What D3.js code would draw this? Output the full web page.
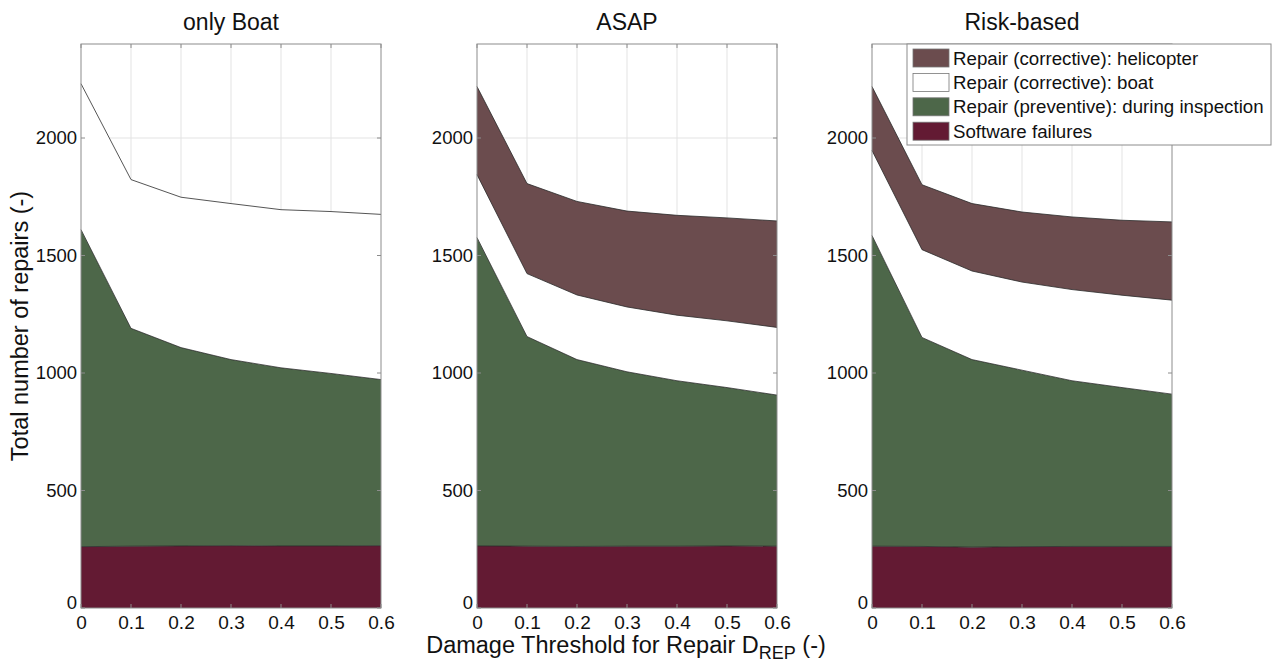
<!DOCTYPE html>
<html>
<head>
<meta charset="utf-8">
<script src="https://cdn.jsdelivr.net/npm/d3@7"></script>
<style>
  html, body { margin: 0; padding: 0; background: #fff; }
  svg { display: block; font-family: "Liberation Sans", Arial, sans-serif; }
</style>
</head>
<body>
<svg id="chart" width="1272" height="665"></svg>
<script>
// Damage threshold values on the x axis
const thresholds = [0, 0.1, 0.2, 0.3, 0.4, 0.5, 0.6];
const xTicks = [0, 0.1, 0.2, 0.3, 0.4, 0.5, 0.6];
const yTicks = [0, 500, 1000, 1500, 2000];

// Maintenance strategies (one panel each)
const strategies = ["only Boat", "ASAP", "Risk-based"];

// Stack layers, bottom to top
const layerKeys = ["software", "preventive", "boat", "helicopter"];
const layerNames = {
  helicopter: "Repair (corrective): helicopter",
  boat: "Repair (corrective): boat",
  preventive: "Repair (preventive): during inspection",
  software: "Software failures"
};
const layerColors = {
  helicopter: "#6b4c4e",
  boat: "#ffffff",
  preventive: "#4d6749",
  software: "#631a33"
};

// Number of repairs per threshold — "only Boat"
const boatOnlySoftware   = [261, 263, 264, 265, 264, 264, 265];
const boatOnlyPreventive = [1349, 927, 844, 792, 758, 734, 707];
const boatOnlyBoat       = [621, 633, 640, 664, 673, 689, 703];
const boatOnlyHeli       = [0, 0, 0, 0, 0, 0, 0];

// "ASAP"
const asapSoftware   = [264, 263, 262, 263, 263, 264, 263];
const asapPreventive = [1312, 892, 795, 742, 704, 674, 643];
const asapBoat       = [268, 268, 275, 276, 279, 284, 288];
const asapHeli       = [375, 383, 398, 408, 425, 438, 453];

// "Risk-based"
const riskSoftware   = [263, 262, 259, 261, 262, 262, 262];
const riskPreventive = [1322, 889, 798, 751, 705, 676, 648];
const riskBoat       = [362, 374, 377, 375, 388, 393, 400];
const riskHeli       = [272, 276, 287, 298, 309, 319, 333];

const panelSeries = [
  [boatOnlySoftware, boatOnlyPreventive, boatOnlyBoat, boatOnlyHeli],
  [asapSoftware, asapPreventive, asapBoat, asapHeli],
  [riskSoftware, riskPreventive, riskBoat, riskHeli]
];

const svg = d3.select("#chart");
const panelLeft = [81, 477, 872];
const panelWidth = 300;
const plotTop = 44, plotBottom = 608;
const textColor = "#111";

const y = d3.scaleLinear().domain([0, 2400]).range([plotBottom, plotTop]);
const stack = d3.stack().keys(layerKeys);

strategies.forEach((name, p) => {
  const x = d3.scaleLinear().domain([0, 0.6]).range([panelLeft[p], panelLeft[p] + panelWidth]);
  const rows = thresholds.map((t, i) => {
    const r = { t };
    layerKeys.forEach((k, j) => { r[k] = panelSeries[p][j][i]; });
    return r;
  });
  const layers = stack(rows);
  const g = svg.append("g");

  // background grid
  g.append("g").selectAll("line").data(xTicks.slice(1, -1)).join("line")
    .attr("x1", d => x(d)).attr("x2", d => x(d))
    .attr("y1", plotTop).attr("y2", plotBottom)
    .attr("stroke", "#e3e3e3").attr("stroke-width", 1);
  g.append("g").selectAll("line").data(yTicks.slice(1)).join("line")
    .attr("x1", x(0)).attr("x2", x(0.6))
    .attr("y1", d => y(d)).attr("y2", d => y(d))
    .attr("stroke", "#e3e3e3").attr("stroke-width", 1);

  // stacked areas
  const area = d3.area()
    .x(d => x(d.data.t))
    .y0(d => y(d[0]))
    .y1(d => y(d[1]));
  const topLine = d3.line()
    .x(d => x(d.data.t))
    .y(d => y(d[1]));

  const visible = layers.filter(layer => layer.some(d => d[1] - d[0] > 0));
  visible.forEach(layer => {
    g.append("path").datum(layer)
      .attr("d", area)
      .attr("fill", layerColors[layer.key]);
  });
  visible.forEach(layer => {
    g.append("path").datum(layer)
      .attr("d", topLine)
      .attr("fill", "none")
      .attr("stroke", "#2a2a2a")
      .attr("stroke-width", 0.8);
  });

  // axes (inner ticks on all four sides, MATLAB style box)
  const axisColor = "#8c8c8c";
  const bottomAxis = d3.axisBottom(x).tickValues(xTicks).tickSize(0).tickPadding(8)
    .tickFormat(d => d === 0 ? "0" : d3.format(".1f")(d));
  const ax = g.append("g").attr("transform", `translate(0,${plotBottom})`).call(bottomAxis);
  ax.select(".domain").remove();
  ax.selectAll("text").attr("font-size", 19).attr("fill", textColor)
    .attr("font-family", "Liberation Sans, Arial, sans-serif");

  const leftAxis = d3.axisLeft(y).tickValues(yTicks).tickSize(0).tickPadding(4)
    .tickFormat(d3.format("d"));
  const ay = g.append("g").attr("transform", `translate(${x(0)},0)`).call(leftAxis);
  ay.select(".domain").remove();
  ay.selectAll("text").attr("font-size", 18.5).attr("fill", textColor)
    .attr("font-family", "Liberation Sans, Arial, sans-serif");
  ay.selectAll(".tick").filter(d => d === 0).select("text").attr("dy", "0.05em");

  // tick marks pointing inward
  const tk = g.append("g").attr("stroke", axisColor).attr("stroke-width", 1);
  xTicks.forEach(t => {
    tk.append("line").attr("x1", x(t)).attr("x2", x(t)).attr("y1", plotBottom).attr("y2", plotBottom - 4);
    tk.append("line").attr("x1", x(t)).attr("x2", x(t)).attr("y1", plotTop).attr("y2", plotTop + 4);
  });
  yTicks.forEach(t => {
    tk.append("line").attr("x1", x(0)).attr("x2", x(0) + 4).attr("y1", y(t)).attr("y2", y(t));
    tk.append("line").attr("x1", x(0.6)).attr("x2", x(0.6) - 4).attr("y1", y(t)).attr("y2", y(t));
  });

  g.append("rect")
    .attr("x", x(0)).attr("y", plotTop)
    .attr("width", x(0.6) - x(0)).attr("height", plotBottom - plotTop)
    .attr("fill", "none").attr("stroke", axisColor).attr("stroke-width", 1);

  // panel title
  g.append("text")
    .attr("x", (x(0) + x(0.6)) / 2).attr("y", 30)
    .attr("text-anchor", "middle")
    .attr("font-size", 23).attr("fill", textColor)
    .text(name);
});

// shared axis labels
svg.append("text")
  .attr("transform", "translate(28,326) rotate(-90)")
  .attr("text-anchor", "middle")
  .attr("font-size", 23.5).attr("fill", textColor)
  .text("Total number of repairs (-)");

const xl = svg.append("text")
  .attr("x", 626).attr("y", 653)
  .attr("text-anchor", "middle")
  .attr("font-size", 23.5).attr("fill", textColor);
xl.append("tspan").text("Damage Threshold for Repair D");
xl.append("tspan").attr("baseline-shift", "-32%").attr("font-size", 18).text("REP");
xl.append("tspan").attr("baseline-shift", "0%").text(" (-)");

// legend
const legend = svg.append("g");
legend.append("rect")
  .attr("x", 907).attr("y", 44).attr("width", 364).attr("height", 101)
  .attr("fill", "#fff").attr("stroke", "#8c8c8c").attr("stroke-width", 1);
const legendOrder = ["helicopter", "boat", "preventive", "software"];
legendOrder.forEach((k, i) => {
  const cy = 58 + i * 24.4;
  legend.append("rect")
    .attr("x", 913).attr("y", cy - 9).attr("width", 36).attr("height", 18)
    .attr("fill", layerColors[k]).attr("stroke", "#777").attr("stroke-width", 0.8);
  legend.append("text")
    .attr("x", 953).attr("y", cy + 6.5)
    .attr("font-size", 18.7).attr("fill", textColor)
    .text(layerNames[k]);
});
</script>
</body>
</html>
